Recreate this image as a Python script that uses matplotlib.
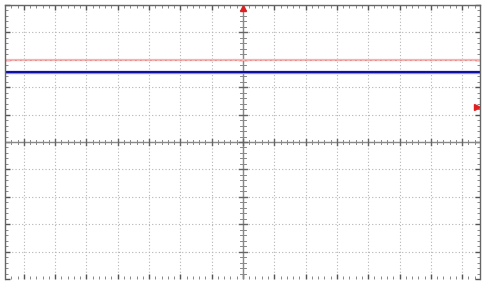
import numpy as np
import matplotlib
matplotlib.use("Agg")
import matplotlib.pyplot as plt
from matplotlib.ticker import MultipleLocator

# screen in divisions
x_range = (-7.6, 7.57)
y_range = (-5.0, 5.0)

# channel levels (divisions)
ch1_level = 3.0    # red trace
ch2_level = 2.55   # blue trace
trigger_level = 1.28
trigger_pos = 0.0

fig = plt.figure(figsize=(4.87, 2.89), dpi=100)
ax = fig.add_axes([5 / 487, 10 / 289, 475 / 487, 274 / 289])
ax.set_xlim(*x_range)
ax.set_ylim(*y_range)

# dotted graticule
ax.xaxis.set_major_locator(MultipleLocator(1))
ax.yaxis.set_major_locator(MultipleLocator(1))
ax.xaxis.set_minor_locator(MultipleLocator(0.2))
ax.yaxis.set_minor_locator(MultipleLocator(0.2))
ax.grid(True, which="major", color="#b4b4b4", linestyle=(0, (1, 2)), linewidth=0.8)
ax.tick_params(which="both", direction="in", top=True, right=True, color="#888888",
               labelbottom=False, labelleft=False)
ax.tick_params(which="major", length=3.5, width=1, color="#555555")
ax.tick_params(which="minor", length=2, width=0.7)
for s in ax.spines.values():
    s.set_color("#666666")
    s.set_linewidth(1)
ax.spines["bottom"].set_visible(False)

# center axes with ticks
ax.axhline(0, color="#888888", lw=1)
ax.axvline(0, color="#888888", lw=1)
for xv in np.arange(-7.4, 7.6, 0.2):
    major = abs(xv - round(xv)) < 1e-6
    h = 0.12 if major else 0.08
    ax.plot([xv, xv], [-h, h], color="#666666" if major else "#888888", lw=1 if major else 0.7)
for yv in np.arange(-4.8, 5.0, 0.2):
    major = abs(yv - round(yv)) < 1e-6
    w = 0.14 if major else 0.09
    ax.plot([-w, w], [yv, yv], color="#666666" if major else "#888888", lw=1 if major else 0.7)

# traces
ax.axhline(ch1_level, color="#f4b4b4", lw=1.6)
ax.axhline(ch1_level, color="#d85050", lw=0.6, linestyle=(0, (1, 5)))
ax.axhline(ch2_level, color="#9090e8", lw=2.4)
ax.axhline(ch2_level, color="#1010a0", lw=1.5)

# trigger markers
ax.plot(trigger_pos, y_range[1] - 0.1, marker="^", color="#e02020", markersize=5, clip_on=False)
ax.plot(x_range[1] - 0.1, trigger_level, marker=">", color="#e02020", markersize=5, clip_on=False)

fig.savefig("out.png", dpi=100)
